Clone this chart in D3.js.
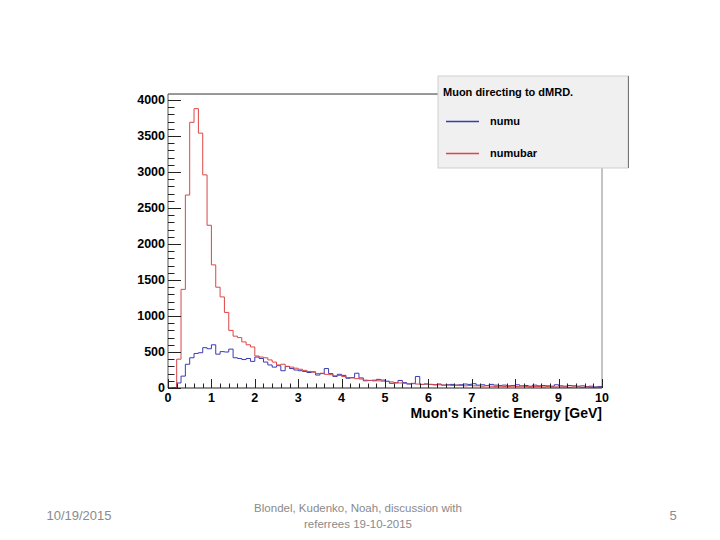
<!DOCTYPE html>
<html>
<head>
<meta charset="utf-8">
<script src="https://cdn.jsdelivr.net/npm/d3@7"></script>
<style>
body { margin: 0; background: #fff; }
text { font-family: "Liberation Sans", Arial, sans-serif; }
</style>
</head>
<body>
<svg id="chart" width="720" height="540"></svg>
<script>
// histogram: 100 bins of 0.1 GeV from 0 to 10
var binWidth = 0.1;

var numu = [
  0, 5, 70, 165, 330, 420, 480, 490, 560, 545,
  600, 470, 505, 500, 540, 420, 410, 395, 410, 370,
  430, 410, 360, 320, 290, 310, 240, 300, 270, 250,
  240, 230, 215, 225, 180, 200, 270, 200, 160, 190,
  175, 135, 145, 205, 140, 100, 105, 100, 120, 110,
  95, 65, 70, 105, 75, 55, 60, 160, 50, 55,
  50, 45, 55, 40, 45, 50, 40, 45, 55, 50,
  60, 40, 45, 35, 50, 40, 35, 40, 30, 35,
  45, 30, 35, 25, 40, 30, 35, 30, 25, 45,
  30, 25, 35, 30, 25, 30, 20, 25, 15, 20
];

var numubar = [
  0, 0, 400, 1370, 2680, 3690, 3880, 3540, 2960, 2260,
  1710, 1400, 1265, 1050, 800, 720, 700, 640, 600, 570,
  445, 430, 420, 390, 360, 320, 330, 300, 290, 275,
  260, 245, 230, 220, 200, 205, 190, 185, 170, 175,
  160, 145, 140, 130, 125, 110, 105, 110, 100, 95,
  90, 85, 75, 70, 65, 60, 65, 55, 50, 55,
  50, 45, 45, 40, 40, 35, 40, 35, 30, 35,
  30, 30, 25, 30, 25, 20, 25, 20, 20, 25,
  20, 25, 20, 15, 20, 20, 15, 20, 15, 15,
  15, 15, 10, 15, 15, 10, 15, 10, 10, 10
];

var yTicks = [0, 500, 1000, 1500, 2000, 2500, 3000, 3500, 4000];
var xTicks = [0, 1, 2, 3, 4, 5, 6, 7, 8, 9, 10];

var legendTitle = "Muon directing to dMRD.";
var seriesNames = ["numu", "numubar"];
var colors = ["#3a3ab4", "#dc4646"];

var svg = d3.select("#chart");

var x = d3.scaleLinear().domain([0, 10]).range([168, 602]);
var y = d3.scaleLinear().domain([0, 4000]).range([388, 100]);
var yTop = 4083;

// frame
svg.append("line").attr("x1", x(0)).attr("x2", 438)
  .attr("y1", y(yTop)).attr("y2", y(yTop))
  .attr("stroke", "#333").attr("stroke-width", 1);
svg.append("line").attr("x1", x(10)).attr("x2", x(10))
  .attr("y1", y(yTop)).attr("y2", y(0))
  .attr("stroke", "#888").attr("stroke-width", 1);

// histograms as steps
function stepPoints(vals) {
  var pts = vals.map(function(v, i) { return [i * binWidth, v]; });
  pts.push([vals.length * binWidth, vals[vals.length - 1]]);
  return pts;
}
var line = d3.line()
  .x(function(d) { return x(d[0]); })
  .y(function(d) { return y(d[1]); })
  .curve(d3.curveStepAfter);

svg.append("path").datum(stepPoints(numu))
  .attr("fill", "none").attr("stroke", colors[0]).attr("stroke-width", 1)
  .attr("d", line);
svg.append("path").datum(stepPoints(numubar))
  .attr("fill", "none").attr("stroke", colors[1]).attr("stroke-width", 1)
  .attr("d", line);

// y axis
var yMinor = d3.range(0, 4001, 100);
var yg = svg.append("g");
yg.append("line").attr("x1", x(0)).attr("x2", x(0))
  .attr("y1", y(yTop)).attr("y2", y(0)).attr("stroke", "#555");
yg.selectAll(".ym").data(yMinor).enter().append("line")
  .attr("x1", x(0)).attr("x2", function(d) { return d % 500 == 0 ? x(0) + 13 : x(0) + 6.5; })
  .attr("y1", function(d) { return Math.round(y(d)) + 0.5; })
  .attr("y2", function(d) { return Math.round(y(d)) + 0.5; })
  .attr("stroke", "#222");
yg.selectAll("text").data(yTicks).enter().append("text")
  .attr("x", 165).attr("y", function(d) { return y(d); })
  .attr("dy", "0.35em").attr("text-anchor", "end")
  .attr("font-size", 12.5).attr("font-weight", "bold")
  .text(function(d) { return d; });

// x axis
var xMinor = d3.range(0, 51).map(function(i) { return i * 0.2; });
var xg = svg.append("g");
xg.append("line").attr("x1", x(0)).attr("x2", x(10))
  .attr("y1", y(0)).attr("y2", y(0)).attr("stroke", "#222");
xg.selectAll(".xm").data(xMinor).enter().append("line")
  .attr("x1", function(d) { return Math.round(x(d)) + 0.5; })
  .attr("x2", function(d) { return Math.round(x(d)) + 0.5; })
  .attr("y1", y(0))
  .attr("y2", function(d, i) { return i % 5 == 0 ? y(0) - 9 : y(0) - 4.5; })
  .attr("stroke", "#222");
xg.selectAll("text").data(xTicks).enter().append("text")
  .attr("x", function(d) { return x(d); }).attr("y", 402)
  .attr("text-anchor", "middle")
  .attr("font-size", 12.5).attr("font-weight", "bold")
  .text(function(d) { return d; });
svg.append("text").attr("x", x(10)).attr("y", 418)
  .attr("text-anchor", "end").attr("font-size", 14).attr("font-weight", "bold")
  .text("Muon's Kinetic Energy [GeV]");

// legend
var lg = svg.append("g");
lg.append("rect").attr("x", 438).attr("y", 76).attr("width", 190).attr("height", 92)
  .attr("fill", "#f0f0f0").attr("stroke", "#cfcfcf");
lg.append("line").attr("x1", 628.5).attr("x2", 628.5).attr("y1", 76).attr("y2", 168)
  .attr("stroke", "#777");
lg.append("text").attr("x", 443).attr("y", 96)
  .attr("font-size", 11).attr("font-weight", "bold").text(legendTitle);
seriesNames.forEach(function(name, i) {
  var ly = 121.5 + i * 32;
  lg.append("line").attr("x1", 446).attr("x2", 479).attr("y1", ly).attr("y2", ly)
    .attr("stroke", colors[i]).attr("stroke-width", 1.3);
  lg.append("text").attr("x", 490).attr("y", ly).attr("dy", "0.35em")
    .attr("font-size", 11).attr("font-weight", "bold").text(name);
});

// footer
var foot = svg.append("g").attr("fill", "#8a8a8a");
foot.append("text").attr("x", 79).attr("y", 520).attr("font-size", 13)
  .attr("text-anchor", "middle").text("10/19/2015");
foot.append("text").attr("x", 358).attr("y", 512).attr("font-size", 11.5)
  .attr("text-anchor", "middle").text("Blondel, Kudenko, Noah, discussion with");
foot.append("text").attr("x", 358).attr("y", 528).attr("font-size", 11.5)
  .attr("text-anchor", "middle").text("referrees 19-10-2015");
foot.append("text").attr("x", 673).attr("y", 520).attr("font-size", 13)
  .attr("text-anchor", "middle").text("5");
</script>
</body>
</html>
